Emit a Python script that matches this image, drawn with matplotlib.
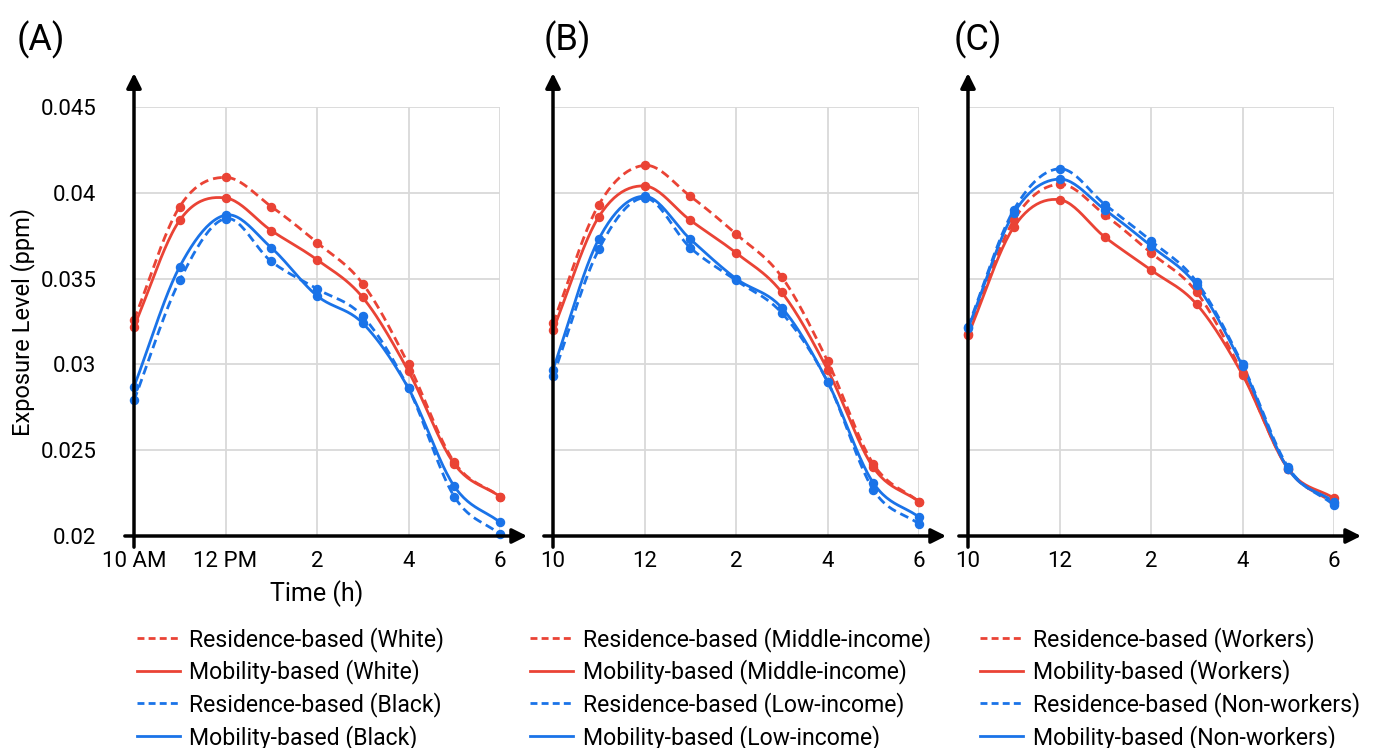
import numpy as np
import matplotlib
matplotlib.use("Agg")
import matplotlib.pyplot as plt
from matplotlib.lines import Line2D

plt.rcParams['font.family'] = ['Roboto', 'DejaVu Sans']

hours = [10, 11, 12, 13, 14, 15, 16, 17, 18]

# Panel A: race
res_white = [0.0326, 0.0392, 0.0409, 0.0392, 0.0371, 0.0347, 0.0300, 0.0243, 0.0223]
mob_white = [0.0322, 0.0384, 0.0397, 0.0378, 0.0361, 0.0339, 0.0296, 0.0242, 0.0223]
res_black = [0.0279, 0.0349, 0.0385, 0.0360, 0.0344, 0.0328, 0.0286, 0.0223, 0.0201]
mob_black = [0.0287, 0.0357, 0.0387, 0.0368, 0.0340, 0.0324, 0.0286, 0.0229, 0.0208]

# Panel B: income
res_mid = [0.0324, 0.0393, 0.0416, 0.0398, 0.0376, 0.0351, 0.0302, 0.0242, 0.0220]
mob_mid = [0.0320, 0.0386, 0.0404, 0.0384, 0.0365, 0.0342, 0.0297, 0.0240, 0.0220]
res_low = [0.0293, 0.0367, 0.0397, 0.0368, 0.0349, 0.0330, 0.0290, 0.0227, 0.0207]
mob_low = [0.0297, 0.0373, 0.0398, 0.0373, 0.0350, 0.0333, 0.0290, 0.0231, 0.0211]

# Panel C: employment
res_work = [0.0318, 0.0384, 0.0405, 0.0387, 0.0365, 0.0342, 0.0295, 0.0239, 0.0219]
mob_work = [0.0317, 0.0380, 0.0396, 0.0374, 0.0355, 0.0335, 0.0294, 0.0239, 0.0222]
res_nonw = [0.0322, 0.0390, 0.0414, 0.0393, 0.0372, 0.0348, 0.0300, 0.0240, 0.0218]
mob_nonw = [0.0321, 0.0388, 0.0408, 0.0390, 0.0369, 0.0346, 0.0299, 0.0239, 0.0220]

xtick_labels_A = ["10 AM", "12 PM", "2", "4", "6"]
xtick_labels_BC = ["10", "12", "2", "4", "6"]
ytick_vals = [0.02, 0.025, 0.03, 0.035, 0.04, 0.045]
ytick_labels = ["0.02", "0.025", "0.03", "0.035", "0.04", "0.045"]

RED = '#EA4335'
BLUE = '#1A73E8'


def smooth(x, y, n=24):
    x = np.asarray(x, float)
    y = np.asarray(y, float)
    px = np.concatenate([[2 * x[0] - x[1]], x, [2 * x[-1] - x[-2]]])
    py = np.concatenate([[2 * y[0] - y[1]], y, [2 * y[-1] - y[-2]]])
    xs, ys = [], []
    t = np.linspace(0, 1, n, endpoint=False)
    for i in range(1, len(px) - 2):
        for arr, out in ((px, xs), (py, ys)):
            p0, p1, p2, p3 = arr[i - 1], arr[i], arr[i + 1], arr[i + 2]
            out.append(0.5 * ((2 * p1) + (-p0 + p2) * t + (2 * p0 - 5 * p1 + 4 * p2 - p3) * t ** 2
                              + (-p0 + 3 * p1 - 3 * p2 + p3) * t ** 3))
    xs.append([x[-1]])
    ys.append([y[-1]])
    return np.concatenate(xs), np.concatenate(ys)


panels = [
    ("(A)", [(res_white, RED, True, "Residence-based (White)"),
             (mob_white, RED, False, "Mobility-based (White)"),
             (res_black, BLUE, True, "Residence-based (Black)"),
             (mob_black, BLUE, False, "Mobility-based (Black)")], xtick_labels_A, 0.008),
    ("(B)", [(res_mid, RED, True, "Residence-based (Middle-income)"),
             (mob_mid, RED, False, "Mobility-based (Middle-income)"),
             (res_low, BLUE, True, "Residence-based (Low-income)"),
             (mob_low, BLUE, False, "Mobility-based (Low-income)")], xtick_labels_BC, -0.063),
    ("(C)", [(res_work, RED, True, "Residence-based (Workers)"),
             (mob_work, RED, False, "Mobility-based (Workers)"),
             (res_nonw, BLUE, True, "Residence-based (Non-workers)"),
             (mob_nonw, BLUE, False, "Mobility-based (Non-workers)")], xtick_labels_BC, 0.033),
]

W, H = 1375, 748
fig = plt.figure(figsize=(W / 100, H / 100), dpi=100)
lefts = [134, 553, 968]
letter_x = [17, 544, 954]
axw = 366
ax_bottom_px, ax_top_px = 536, 107

for k, (letter, series, xlabels, leg_x) in enumerate(panels):
    ax = fig.add_axes([lefts[k] / W, 1 - ax_bottom_px / H, axw / W, (ax_bottom_px - ax_top_px) / H])
    ax.set_xlim(10, 18)
    ax.set_ylim(0.02, 0.045)
    for s in ax.spines.values():
        s.set_visible(False)
    ax.set_xticks([10, 12, 14, 16, 18])
    ax.set_xticklabels(xlabels)
    ax.set_yticks(ytick_vals)
    if k == 0:
        ax.set_yticklabels(ytick_labels)
    else:
        ax.set_yticklabels([])
    ax.tick_params(axis='both', length=0, labelsize=16, colors='black')
    ax.tick_params(axis='x', pad=11)
    ax.tick_params(axis='y', pad=27)
    ax.grid(True, color='#d9d9d9', lw=1.3)
    ax.set_axisbelow(True)

    handles = []
    for vals, col, dashed, lab in series:
        sx, sy = smooth(hours, vals)
        ls = (0, (3.2, 1.8)) if dashed else '-'
        ax.plot(sx, sy, color=col, lw=2.0, ls=ls, clip_on=False, zorder=3)
        ax.plot(hours, vals, 'o', color=col, ms=5.8, clip_on=False, zorder=4)
        handles.append(Line2D([], [], color=col, lw=2.0, ls=((0, (2.5, 1.5)) if dashed else '-'), label=lab))

    # axis arrows
    ax.annotate('', xy=(0, 1.079), xytext=(0, -0.026), xycoords='axes fraction',
                arrowprops=dict(arrowstyle='-|>', lw=2.5, color='black', mutation_scale=22,
                                shrinkA=0, shrinkB=0), annotation_clip=False, zorder=6)
    ax.annotate('', xy=(1.074, 0), xytext=(-0.025, 0), xycoords='axes fraction',
                arrowprops=dict(arrowstyle='-|>', lw=2.5, color='black', mutation_scale=22,
                                shrinkA=0, shrinkB=0), annotation_clip=False, zorder=6)

    fig.text(letter_x[k] / W, 1 - 40 / H, letter, fontsize=26, va='center', ha='left')

    ax.legend(handles=handles, loc='upper left', bbox_to_anchor=(leg_x, -0.212),
              frameon=False, fontsize=16.6, handlelength=1.85, handletextpad=0.43,
              labelspacing=0.33, borderpad=0, borderaxespad=0)

    if k == 0:
        ax.set_xlabel("Time (h)", fontsize=18)
        ax.xaxis.set_label_coords(0.5, -0.103)
        ax.set_ylabel("Exposure Level (ppm)", fontsize=17)
        ax.yaxis.set_label_coords(-99 / axw, 0.5)

fig.savefig("out.png", dpi=100)
